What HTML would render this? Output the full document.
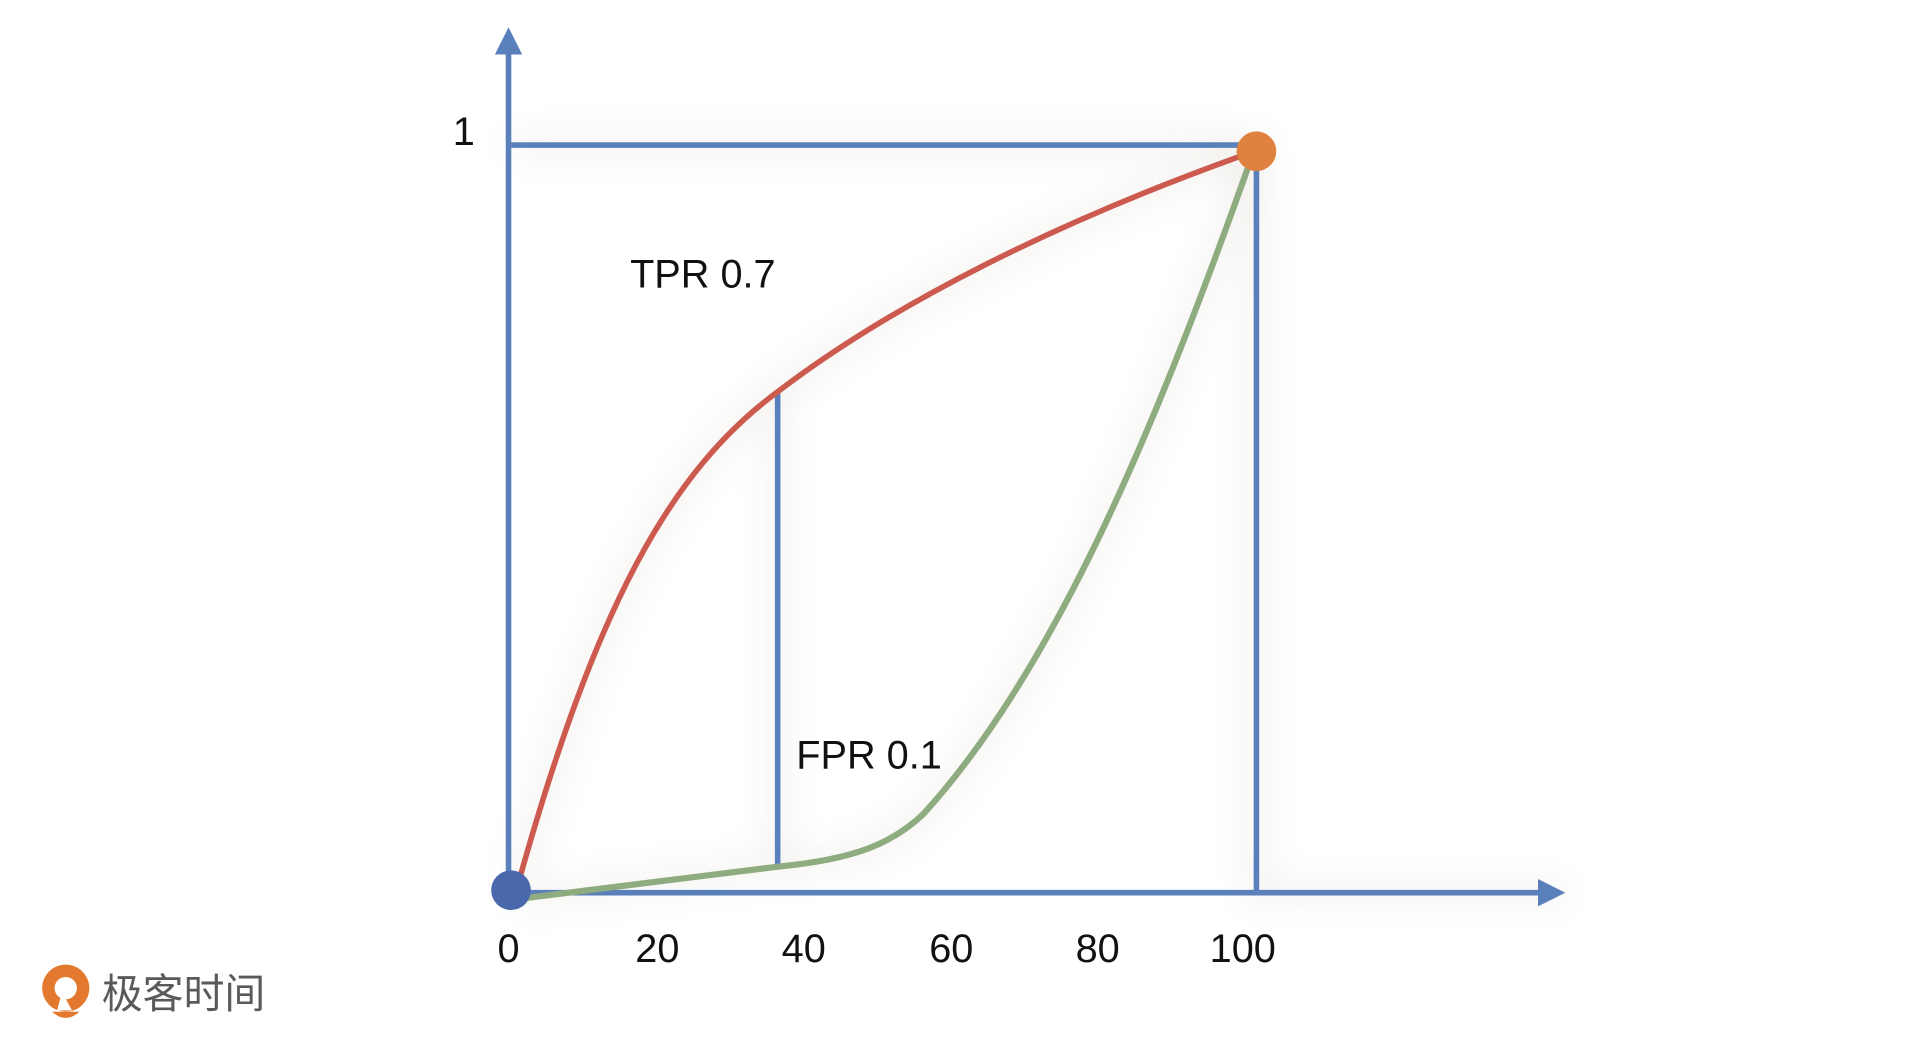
<!DOCTYPE html>
<html><head><meta charset="utf-8"><style>
html,body{margin:0;padding:0;background:#fff;width:1920px;height:1039px;overflow:hidden}
svg{display:block}
text{font-family:"Liberation Sans","Noto Sans CJK SC",sans-serif}
</style></head><body>
<svg width="1920" height="1039" viewBox="0 0 1548 838" preserveAspectRatio="none">
<defs><filter id="b" x="-20%" y="-20%" width="140%" height="140%"><feGaussianBlur stdDeviation="14"/></filter></defs>
<g filter="url(#b)" opacity="0.35" fill="none" stroke="#c9c2b5" stroke-width="10">
<path d="M418,712 C480,490 540,380 627,316 C720,245 850,180 1000,126"/>
<path d="M418,725 L627,699 C690,693 720,680 745,656 C850,540 930,350 1008,130"/>
<path d="M412,117 H1013 V720 H1262"/>
<path d="M627,316 V698"/>
</g>
<g stroke="#5a80bb" stroke-width="4.5" fill="none">
<line x1="410" y1="720" x2="410" y2="40"/>
<line x1="410" y1="720" x2="1245" y2="720"/>
<line x1="410" y1="117" x2="1013" y2="117"/>
<line x1="1013" y1="117" x2="1013" y2="720"/>
<line x1="627" y1="316" x2="627" y2="698"/>
</g>
<polygon points="410,22 399,44 421,44" fill="#5a80bb"/>
<polygon points="1262,720 1240,709 1240,731" fill="#5a80bb"/>
<path d="M418,712 C480,490 540,380 627,316 C720,245 850,180 1000,126" fill="none" stroke="#cc5a4e" stroke-width="4.5"/>
<path d="M418,725 L627,699 C690,693 720,680 745,656 C850,540 930,350 1008,130" fill="none" stroke="#8fac80" stroke-width="5"/>
<circle cx="412" cy="718" r="16" fill="#4a68ac"/>
<circle cx="1013" cy="122" r="16" fill="#e0823f"/>
<g font-size="32" fill="#111">
<text x="365" y="117">1</text>
<text x="508" y="232">TPR 0.7</text>
<text x="642" y="620">FPR 0.1</text>
<g text-anchor="middle">
<text x="410" y="776">0</text>
<text x="530" y="776">20</text>
<text x="648" y="776">40</text>
<text x="767" y="776">60</text>
<text x="885" y="776">80</text>
<text x="1002" y="776">100</text>
</g></g>
<circle cx="53" cy="797" r="19" fill="#e2792f"/>
<circle cx="53" cy="797" r="9" fill="#fff"/>
<path d="M50,800 L58,815 L46,815 Z" fill="#fff"/>
<path d="M42,816 Q53,826 64,816 Z" fill="#e2792f"/>
<text x="82" y="813" font-size="33" fill="#5a5a5a" style="font-family:'Noto Sans CJK SC',sans-serif">极客时间</text>
</svg>
</body></html>
